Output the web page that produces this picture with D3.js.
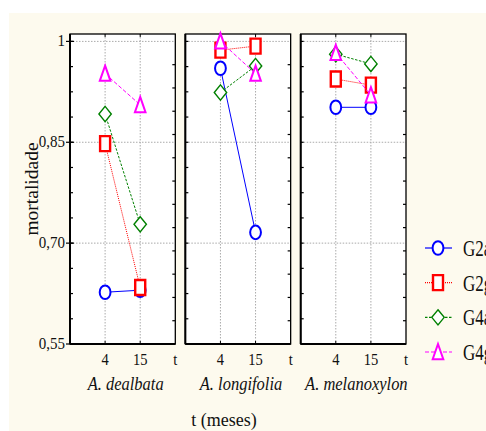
<!DOCTYPE html>
<html><head><meta charset="utf-8">
<script src="https://cdn.jsdelivr.net/npm/d3@7"></script>
<style>html,body{margin:0;padding:0;background:#fff;overflow:hidden}
svg text{font-family:"Liberation Serif","Tinos","Times New Roman","DejaVu Serif",serif;fill:#111}</style>
</head><body>
<svg id="c" width="486" height="431"></svg>
<script>
// ---- data ----
const panels = ["A. dealbata", "A. longifolia", "A. melanoxylon"];
const times = ["4", "15"];
const seriesNames = ["G2a", "G2g", "G4a", "G4g"];
// values per series: [panel1 t4, panel1 t15, panel2 t4, panel2 t15, panel3 t4, panel3 t15]
const G2a = [0.627, 0.630, 0.960, 0.716, 0.902, 0.902];
const G2g = [0.848, 0.634, 0.987, 0.993, 0.944, 0.935];
const G4a = [0.892, 0.728, 0.924, 0.9635, 0.981, 0.9665];
const G4g = [0.952, 0.9055, 1.000, 0.952, 0.983, 0.920];
const yTicks = [0.55, 0.70, 0.85, 1.00];
const yTickLabels = ["0,55", "0,70", "0,85", "1"];
const xEndLabel = "t";
const yTitle = "mortalidade";
const xTitle = "t (meses)";

const seriesData = [G2a, G2g, G4a, G4g];
const styles = [
  {color: "#0000ff", dash: null, shape: "circle", sw: 2},
  {color: "#ff0000", dash: "1,1", shape: "square", sw: 2.4},
  {color: "#008000", dash: "2.5,1.5", shape: "diamond", sw: 1.4},
  {color: "#ff00ff", dash: "4,2", shape: "triangle", sw: 2}
];

const svg = d3.select("#c");

svg.append("rect").attr("x", 9).attr("y", 13).attr("width", 486).attr("height", 431).attr("fill", "#fdfaee");

const y = d3.scaleLinear().domain([0.55, 1.011]).range([344, 34]);
const px = d3.scaleBand().domain(panels).range([70, 406]).paddingInner(0.087);
const bw = px.bandwidth();
const xin = d3.scalePoint().domain(["", ...times, xEndLabel]).range([0, bw]);

function markerPath(shape) {
  if (shape === "square") return "M-5,-7.5H5V7.5H-5Z";
  if (shape === "diamond") return "M0,-7.6L6.2,0L0,7.6L-6.2,0Z";
  if (shape === "triangle") return "M0,-8L5.3,7.2H-5.3Z";
  return null;
}
function drawMarker(g, st, cx, cy) {
  if (st.shape === "circle") {
    g.append("ellipse").attr("cx", cx).attr("cy", cy).attr("rx", 5.4).attr("ry", 6.8)
      .attr("fill", "#fff").attr("stroke", st.color).attr("stroke-width", st.sw);
  } else {
    g.append("path").attr("d", markerPath(st.shape)).attr("transform", `translate(${cx},${cy})`)
      .attr("fill", "#fff").attr("stroke", st.color).attr("stroke-width", st.sw);
  }
}
function txt(parent, x, yy, s, size, anchor, sx, sy, italic) {
  return parent.append("text")
    .attr("transform", `translate(${x},${yy}) scale(${sx},${sy})`)
    .attr("text-anchor", anchor).style("font-size", size + "px")
    .style("font-style", italic ? "italic" : "normal").text(s);
}

panels.forEach((p, pi) => {
  const x0 = px(p);
  const g = svg.append("g").attr("transform", `translate(${x0},0)`);
  g.append("rect").attr("x", 0).attr("y", y.range()[1]).attr("width", bw).attr("height", y.range()[0] - y.range()[1]).attr("fill", "#fff");
  yTicks.slice(1).forEach(t => {
    g.append("line").attr("x1", 0).attr("x2", bw).attr("y1", y(t)).attr("y2", y(t))
      .attr("stroke", "#aaa").attr("stroke-width", 1).attr("stroke-dasharray", "1.5,1.5");
  });
  times.forEach(t => {
    g.append("line").attr("x1", xin(t)).attr("x2", xin(t)).attr("y1", y.range()[1]).attr("y2", y.range()[0])
      .attr("stroke", "#aaa").attr("stroke-width", 1).attr("stroke-dasharray", "1.5,1.5");
  });
  const minorL = d3.range(0, 13).map(i => 0.55 + i * 0.0375).filter(v => v <= 1.0001);
  minorL.forEach(v => {
    g.append("line").attr("x1", 0).attr("x2", 3).attr("y1", y(v)).attr("y2", y(v)).attr("stroke", "#000").attr("stroke-width", 1.2);
  });
  d3.range(1, 13).forEach(i => {
    const v = 0.55 + i * 0.45 / 13;
    g.append("line").attr("x1", bw - 3).attr("x2", bw).attr("y1", y(v)).attr("y2", y(v)).attr("stroke", "#000").attr("stroke-width", 1.2);
  });
  times.forEach(t => {
    g.append("line").attr("x1", xin(t)).attr("x2", xin(t)).attr("y1", y.range()[1]).attr("y2", y.range()[1] + 3).attr("stroke", "#000");
    g.append("line").attr("x1", xin(t)).attr("x2", xin(t)).attr("y1", y.range()[0] - 3).attr("y2", y.range()[0]).attr("stroke", "#000");
  });
  g.append("rect").attr("x", 0).attr("y", y.range()[1]).attr("width", bw).attr("height", y.range()[0] - y.range()[1])
    .attr("fill", "none").attr("stroke", "#000").attr("stroke-width", 1.3);
  g.append("line").attr("x1", 0).attr("x2", 0).attr("y1", y.range()[1]).attr("y2", y.range()[0]).attr("stroke", "#000").attr("stroke-width", 2);
  g.append("line").attr("x1", 0).attr("x2", bw).attr("y1", y.range()[0]).attr("y2", y.range()[0]).attr("stroke", "#000").attr("stroke-width", 2);

  seriesData.forEach((arr, si) => {
    const st = styles[si];
    const pts = times.map((t, ti) => [xin(t), y(arr[pi * 2 + ti])]);
    g.append("path").attr("d", d3.line()(pts)).attr("fill", "none").attr("stroke", st.color)
      .attr("stroke-width", 1).attr("stroke-dasharray", st.dash);
    pts.forEach(pt => drawMarker(g, st, pt[0], pt[1]));
  });

  [...times, xEndLabel].forEach(t => {
    txt(g, xin(t), 365, t, 14.5, "middle", 1, 1.1, false);
  });
  txt(g, bw / 2 + 3, 390, p, 16.5, "middle", 1, 1.1, true);
});

const x0 = px(panels[0]);
yTicks.forEach((t, i) => {
  svg.append("line").attr("x1", x0 - 4).attr("x2", x0 + 4).attr("y1", y(t)).attr("y2", y(t)).attr("stroke", "#000").attr("stroke-width", 1.2);
  txt(svg, x0 - 5, y(t) + 5, yTickLabels[i], 15, "end", 1, 1.05, false);
});

svg.append("text").attr("transform", "translate(38,189) rotate(-90)").attr("text-anchor", "middle")
  .style("font-size", "19.5px").text(yTitle);
txt(svg, 224, 426, xTitle, 18, "middle", 1, 1.08, false);

const legY = d3.scalePoint().domain(seriesNames).range([248, 352]);
seriesNames.forEach((n, i) => {
  const st = styles[i];
  const ly = legY(n);
  svg.append("line").attr("x1", 425).attr("x2", 452).attr("y1", ly).attr("y2", ly)
    .attr("stroke", st.color).attr("stroke-width", 1.2).attr("stroke-dasharray", st.dash);
  drawMarker(svg, st, 438, ly);
  txt(svg, 463, ly + 8, n, 17, "start", 1, 1.3, false);
});
</script>
</body></html>
